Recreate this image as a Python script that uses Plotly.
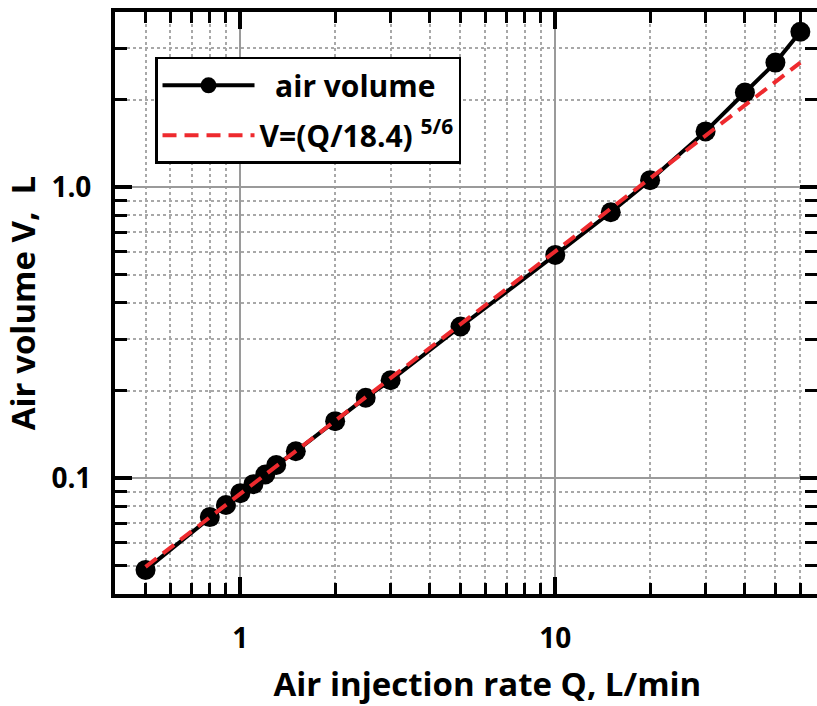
import plotly.graph_objects as go

# Data
Q = [0.5, 0.8, 0.9, 1.0, 1.1, 1.2, 1.3, 1.5, 2, 2.5, 3, 5, 10, 15, 20, 30, 40, 50, 60]
V = [0.0484, 0.0735, 0.0809, 0.0888, 0.0954, 0.103, 0.111, 0.1237, 0.157, 0.189,
     0.217, 0.332, 0.585, 0.82, 1.057, 1.555, 2.115, 2.68, 3.42]
fit_Q = [0.5, 60]
fit_V = [0.0496, 2.68]

x_major = [1, 10]
x_major_text = ["1", "10"]
x_minor = [0.5, 0.6, 0.7, 0.8, 0.9, 2, 3, 4, 5, 6, 7, 8, 9, 20, 30, 40, 50, 60]
y_major = [0.1, 1.0]
y_major_text = ["0.1", "1.0"]
y_minor = [0.05, 0.06, 0.07, 0.08, 0.09, 0.2, 0.3, 0.4, 0.5, 0.6, 0.7, 0.8, 0.9, 2, 3]

FONT = "Open Sans, Noto Sans, DejaVu Sans, sans-serif"
RED = "#EE2A2E"
NB = "\u00a0"

fig = go.Figure()
fig.add_trace(go.Scatter(
    x=Q, y=V, mode="lines+markers", name=NB * 2 + "air volume",
    line=dict(color="black", width=4),
    marker=dict(color="black", size=20, symbol="circle"),
    legendgroup="a",
))
fig.add_trace(go.Scatter(
    x=fit_Q, y=fit_V, mode="lines", name="V=(Q/18.4) <sup>5/6</sup>",
    line=dict(color=RED, width=4, dash="14px,8px"),
    legendgroup="b",
))

axis_common = dict(
    type="log",
    automargin=False,
    showline=True, linecolor="black", linewidth=4,
    mirror="ticks",
    ticks="inside", ticklen=17, tickwidth=3.5, tickcolor="black",
    showgrid=True, gridcolor="#9a9a9a", gridwidth=1.5,
    zeroline=False,
    tickfont=dict(family=FONT, size=28, color="black", weight="bold"),
)

fig.update_xaxes(
    **axis_common,
    range=[-0.398, 1.831],
    tickmode="array", tickvals=x_major, ticktext=x_major_text,
    ticklabelstandoff=16,
    minor=dict(tickmode="array", tickvals=x_minor, ticks="inside", ticklen=11,
               tickwidth=2.5, tickcolor="black", showgrid=True,
               gridcolor="#a8a8a8", griddash="dot", gridwidth=1.5),
    title=dict(text="\u200b" + NB * 5 + "Air injection rate Q, L/min", standoff=22,
               font=dict(family=FONT, size=33, color="black", weight="bold")),
)
fig.update_yaxes(
    **axis_common,
    range=[-1.398, 0.602],
    tickmode="array", tickvals=y_major, ticktext=y_major_text,
    ticklabelstandoff=14,
    minor=dict(tickmode="array", tickvals=y_minor, ticks="inside", ticklen=12,
               tickwidth=2.5, tickcolor="black", showgrid=True,
               gridcolor="#a8a8a8", griddash="dot", gridwidth=1.5),
    title=dict(text="Air volume V," + NB * 2 + "L", standoff=14,
               font=dict(family=FONT, size=33, color="black", weight="bold")),
)

fig.update_layout(
    width=817, height=706,
    margin=dict(l=115, r=0, t=12, b=112),
    paper_bgcolor="white", plot_bgcolor="white",
    font=dict(family=FONT, color="black"),
    showlegend=True,
    legend=dict(
        x=0.057, y=0.923, xanchor="left", yanchor="top",
        bgcolor="white", bordercolor="black", borderwidth=2.5,
        font=dict(family=FONT, size=30, color="black", weight="bold"),
        itemwidth=92, traceorder="grouped", tracegroupgap=8,
    ),
)

fig.write_html("out.html")
